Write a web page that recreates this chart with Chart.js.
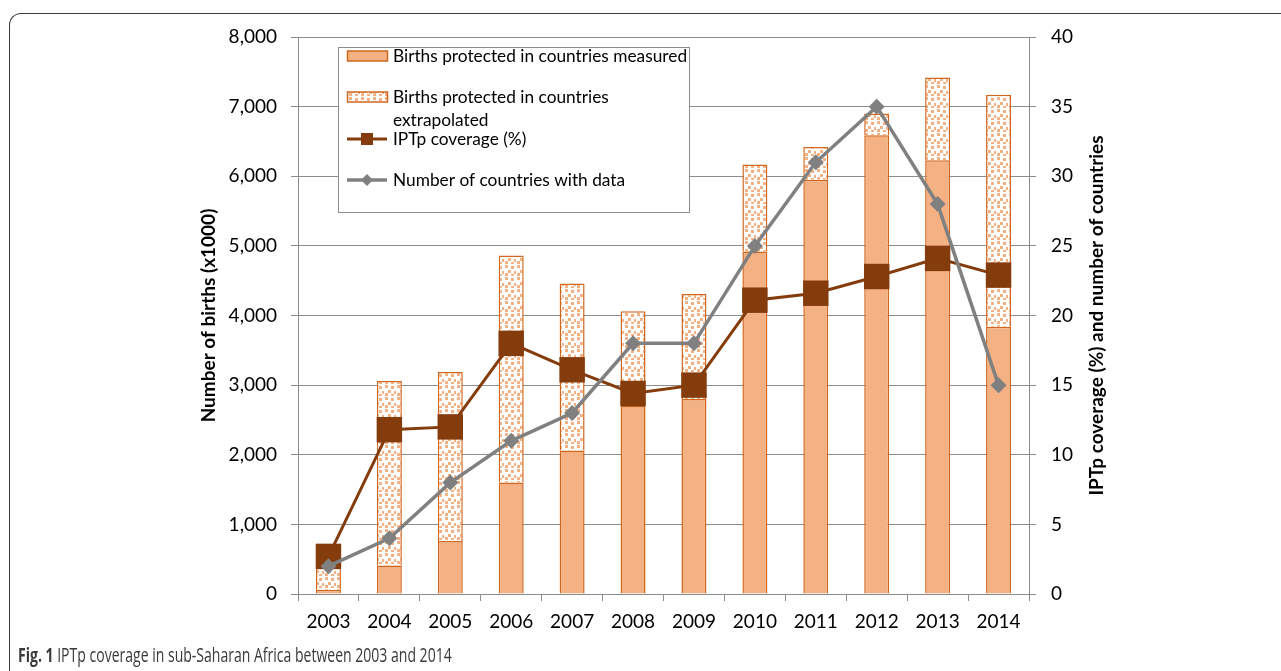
<!DOCTYPE html>
<html>
<head>
<meta charset="utf-8">
<script src="https://cdn.jsdelivr.net/npm/chart.js@4.4.1/dist/chart.umd.min.js"></script>
<style>
    html, body { margin: 0; padding: 0; background: #fff; overflow: hidden; }
    #wrap { position: relative; width: 1281px; height: 671px; }
    #frame {
        position: absolute; left: 9px; top: 13px; width: 1320px; height: 720px;
        border-top: 1.5px solid #3a3a3a; border-left: 1.5px solid #3a3a3a;
        border-top-left-radius: 12px;
    }
    #chart { position: absolute; left: 0; top: 0; }
    #caption {
        position: absolute; left: 18px; top: 641px;
        font-family: "Open Sans", "Noto Sans", sans-serif;
        font-size: 20px; color: #3a3a3a; white-space: nowrap;
        transform-origin: 0 50%;
    }
</style>
</head>
<body>
<div id="wrap">
    <div id="frame"></div>
    <canvas id="chart" width="1281" height="671"></canvas>
    <div id="caption"><b>Fig. 1</b> IPTp coverage in sub-Saharan Africa between 2003 and 2014</div>
</div>
<script>
// Data
const years = ['2003', '2004', '2005', '2006', '2007', '2008', '2009', '2010', '2011', '2012', '2013', '2014'];
const birthsMeasured = [60, 410, 760, 1600, 2060, 2700, 2800, 4920, 5950, 6590, 6230, 3840];
const birthsExtrapolated = [400, 2650, 2430, 3260, 2400, 1360, 1510, 1250, 470, 310, 1190, 3330];
const iptpCoverage = [2.7, 11.8, 12.0, 18.0, 16.1, 14.4, 15.0, 21.1, 21.6, 22.8, 24.1, 22.9];
const countriesWithData = [2, 4, 8, 11, 13, 18, 18, 25, 31, 35, 28, 15];

const FONT = 'Lato, "Open Sans", sans-serif';
const BAR_FILL = '#F4B183';
const BAR_EDGE = '#D0671E';
const BROWN = '#843C0C';
const GREY = '#808080';
const AXIS = '#8c8c8c';

// squeeze the caption to the condensed look of the original
const caption = document.getElementById('caption');
caption.style.transform = 'scaleX(' + (434 / caption.offsetWidth) + ')';

const canvas = document.getElementById('chart');
const mainCtx = canvas.getContext('2d');

// stippled fill for the extrapolated part
function makeStipple() {
    const c = document.createElement('canvas');
    c.width = 12;
    c.height = 12;
    const g = c.getContext('2d');
    g.fillStyle = '#ffffff';
    g.fillRect(0, 0, 12, 12);
    g.fillStyle = BAR_FILL;
    [[1, 1], [7, 2], [4, 6], [10, 7], [1, 9], [7, 10]].forEach(p => g.fillRect(p[0], p[1], 3, 3));
    return mainCtx.createPattern(c, 'repeat');
}
const stipple = makeStipple();

// Legend drawn in a box like the original
const boxLegend = {
    id: 'boxLegend',
    afterDraw(chart) {
        const ctx = chart.ctx;
        const ds = chart.data.datasets;
        const box = { x: 338.5, y: 47.5, w: 351, h: 165 };
        const rows = [56, 97, 139, 180];
        ctx.save();
        ctx.fillStyle = '#fff';
        ctx.fillRect(box.x, box.y, box.w, box.h);
        ctx.strokeStyle = AXIS;
        ctx.lineWidth = 1;
        ctx.strokeRect(box.x, box.y, box.w, box.h);

        ctx.font = '17.3px ' + FONT;
        ctx.textBaseline = 'middle';
        ctx.textAlign = 'left';

        ds.forEach((d, i) => {
            const y = rows[i];
            if (d.type === 'line') {
                ctx.strokeStyle = d.borderColor;
                ctx.lineWidth = d.borderWidth;
                ctx.beginPath();
                ctx.moveTo(347, y);
                ctx.lineTo(387, y);
                ctx.stroke();
                ctx.fillStyle = d.pointBackgroundColor;
                ctx.beginPath();
                if (d.pointStyle === 'rect') {
                    ctx.rect(361, y - 6, 12, 12);
                } else {
                    ctx.moveTo(367, y - 6);
                    ctx.lineTo(373, y);
                    ctx.lineTo(367, y + 6);
                    ctx.lineTo(361, y);
                    ctx.closePath();
                }
                ctx.fill();
            } else {
                ctx.fillStyle = d.backgroundColor;
                ctx.fillRect(347.5, y - 5, 40, 10);
                ctx.strokeStyle = d.borderColor;
                ctx.lineWidth = 1.5;
                ctx.strokeRect(347.5, y - 5, 40, 10);
            }
            // simple word wrap
            ctx.fillStyle = '#000';
            const words = d.label.split(' ');
            let line = '';
            let ly = y;
            words.forEach(w => {
                const test = line ? line + ' ' + w : w;
                if (ctx.measureText(test).width > 296 && line) {
                    ctx.fillText(line, 393, ly);
                    line = w;
                    ly += 23;
                } else {
                    line = test;
                }
            });
            ctx.fillText(line, 393, ly);
        });
        ctx.restore();
    }
};

// right axis title reads bottom-to-top in the original
const rightTitle = {
    id: 'rightTitle',
    afterDraw(chart) {
        const ctx = chart.ctx;
        const area = chart.chartArea;
        ctx.save();
        ctx.translate(1097, (area.top + area.bottom) / 2);
        ctx.rotate(-Math.PI / 2);
        ctx.font = 'bold 19px ' + FONT;
        ctx.fillStyle = '#000';
        ctx.textAlign = 'center';
        ctx.textBaseline = 'middle';
        ctx.fillText('IPTp coverage (%) and number of countries', 0, 0);
        ctx.restore();
    }
};

new Chart(canvas, {
    type: 'bar',
    data: {
        labels: years,
        datasets: [
            {
                label: 'Births protected in countries measured',
                data: birthsMeasured,
                backgroundColor: BAR_FILL,
                borderColor: BAR_EDGE,
                borderWidth: 1.5,
                yAxisID: 'y',
                stack: 'births',
                order: 2,
                categoryPercentage: 1,
                barPercentage: 0.41
            },
            {
                label: 'Births protected in countries extrapolated',
                data: birthsExtrapolated,
                backgroundColor: stipple,
                borderColor: BAR_EDGE,
                borderWidth: 1.5,
                yAxisID: 'y',
                stack: 'births',
                order: 2,
                categoryPercentage: 1,
                barPercentage: 0.41
            },
            {
                type: 'line',
                label: 'IPTp coverage (%)',
                data: iptpCoverage,
                borderColor: BROWN,
                borderWidth: 3,
                pointStyle: 'rect',
                pointRadius: 18,
                pointBackgroundColor: BROWN,
                pointBorderWidth: 0,
                tension: 0,
                yAxisID: 'y1',
                order: 1
            },
            {
                type: 'line',
                label: 'Number of countries with data',
                data: countriesWithData,
                borderColor: GREY,
                borderWidth: 3.5,
                pointStyle: 'rectRot',
                pointRadius: 8,
                pointBackgroundColor: GREY,
                pointBorderWidth: 0,
                tension: 0,
                yAxisID: 'y1',
                order: 0
            }
        ]
    },
    options: {
        responsive: false,
        animation: false,
        devicePixelRatio: 1,
        layout: { padding: { left: 197, right: 172, top: 37, bottom: 37 } },
        plugins: {
            legend: { display: false },
            tooltip: { enabled: false }
        },
        scales: {
            x: {
                stacked: true,
                grid: { offset: true, drawOnChartArea: false, tickLength: 7, color: AXIS },
                border: { color: AXIS },
                ticks: { font: { family: FONT, size: 19 }, color: '#000', padding: 9 },
                afterFit(s) { s.height = 40; }
            },
            y: {
                stacked: true,
                min: 0,
                max: 8000,
                ticks: {
                    stepSize: 1000,
                    font: { family: FONT, size: 19 },
                    color: '#000',
                    padding: 14,
                    callback: v => v.toLocaleString('en-US')
                },
                grid: { color: AXIS, tickLength: 7 },
                border: { color: AXIS },
                title: {
                    display: true,
                    text: 'Number of births (x1000)',
                    font: { family: FONT, size: 19, weight: 'bold' },
                    color: '#000',
                    padding: { top: 0, bottom: 0 }
                },
                afterFit(s) { s.width = 101; }
            },
            y1: {
                position: 'right',
                min: 0,
                max: 40,
                ticks: {
                    stepSize: 5,
                    font: { family: FONT, size: 19 },
                    color: '#000',
                    padding: 15
                },
                grid: { drawOnChartArea: false, color: AXIS, tickLength: 7 },
                border: { color: AXIS },
                afterFit(s) { s.width = 80; }
            }
        }
    },
    plugins: [boxLegend, rightTitle]
});
</script>
</body>
</html>
